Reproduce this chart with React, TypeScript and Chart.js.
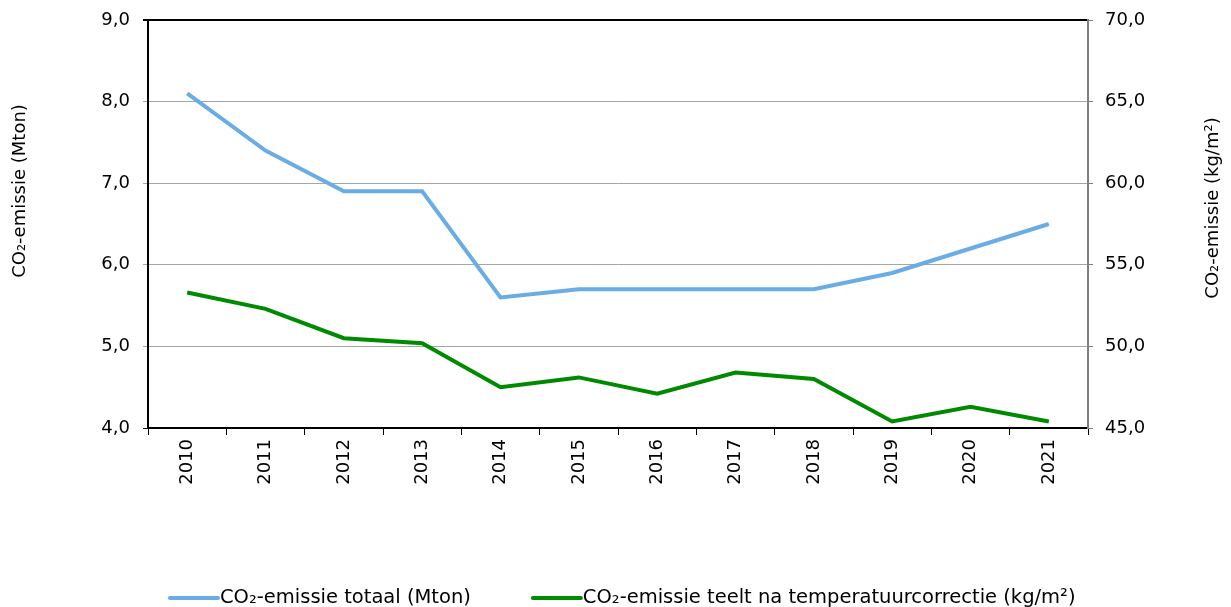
import React, { useEffect, useRef } from 'react';
import { Chart, registerables } from 'chart.js';

Chart.register(...registerables);

const years = ['2010', '2011', '2012', '2013', '2014', '2015', '2016', '2017', '2018', '2019', '2020', '2021'];
const totalMton = [8.1, 7.4, 6.9, 6.9, 5.6, 5.7, 5.7, 5.7, 5.7, 5.9, 6.2, 6.5];
const teeltKgM2 = [53.3, 52.3, 50.5, 50.2, 47.5, 48.1, 47.1, 48.4, 48.0, 45.4, 46.3, 45.4];
const seriesLabels = ['CO₂-emissie totaal (Mton)', 'CO₂-emissie teelt na temperatuurcorrectie (kg/m²)'];
const leftTitle = 'CO₂-emissie (Mton)';
const rightTitle = 'CO₂-emissie (kg/m²)';
const seriesColors = ['#6aade4', '#008a00'];

const FONT = "'DejaVu Sans', Verdana, sans-serif";
const fmt = (v: number) => v.toFixed(1).replace('.', ',');

const decorPlugin = {
  id: 'decor',
  afterDraw(chart: any) {
    const ctx = chart.ctx as CanvasRenderingContext2D;
    ctx.save();
    ctx.fillStyle = '#000';
    ctx.font = `18px ${FONT}`;
    ctx.textAlign = 'center';
    ctx.textBaseline = 'middle';
    // axis titles (both read bottom-to-top)
    ctx.save();
    ctx.translate(20, 191);
    ctx.rotate(-Math.PI / 2);
    ctx.fillText(leftTitle, 0, 0);
    ctx.restore();
    ctx.save();
    ctx.translate(1213, 208);
    ctx.rotate(-Math.PI / 2);
    ctx.fillText(rightTitle, 0, 0);
    ctx.restore();

    // legend
    ctx.font = `19.5px ${FONT}`;
    const lineLen = 48;
    const gap = 2;
    const itemGap = 62;
    const widths = seriesLabels.map((t) => ctx.measureText(t).width);
    let x = 170;
    const y = 598;
    ctx.textAlign = 'left';
    seriesLabels.forEach((t, i) => {
      ctx.strokeStyle = seriesColors[i];
      ctx.lineWidth = 4;
      ctx.lineCap = 'round';
      ctx.beginPath();
      ctx.moveTo(x, y);
      ctx.lineTo(x + lineLen, y);
      ctx.stroke();
      ctx.fillStyle = '#000';
      ctx.fillText(t, x + lineLen + gap, y);
      x += lineLen + gap + widths[i] + itemGap;
    });
    ctx.restore();
  },
};

export default function App() {
  const ref = useRef<HTMLCanvasElement>(null);
  useEffect(() => {
    if (!ref.current) return;
    const chart = new Chart(ref.current, {
      type: 'line',
      data: {
        labels: years,
        datasets: [
          {
            label: seriesLabels[0],
            data: totalMton,
            borderColor: seriesColors[0],
            backgroundColor: seriesColors[0],
            borderWidth: 4,
            pointRadius: 0,
            tension: 0,
            yAxisID: 'y',
          },
          {
            label: seriesLabels[1],
            data: teeltKgM2,
            borderColor: seriesColors[1],
            backgroundColor: seriesColors[1],
            borderWidth: 4,
            pointRadius: 0,
            tension: 0,
            yAxisID: 'y2',
          },
        ],
      },
      options: {
        responsive: false,
        animation: false,
        devicePixelRatio: 1,
        layout: { padding: { top: 20, left: 0, right: 0, bottom: 109 } },
        plugins: { legend: { display: false }, tooltip: { enabled: false } },
        scales: {
          x: {
            type: 'category',
            offset: true,
            grid: { offset: true, drawOnChartArea: false, drawTicks: true, tickLength: 7, color: '#000', lineWidth: 1 },
            border: { color: '#000', width: 2 },
            ticks: {
              color: '#000',
              font: { family: FONT, size: 18 },
              minRotation: 90,
              maxRotation: 90,
              padding: 4,
              autoSkip: false,
            },
            afterFit(scale: any) {
              scale.height = 70;
              scale.paddingLeft = 0;
              scale.paddingRight = 0;
            },
          },
          y: {
            position: 'left',
            min: 4,
            max: 9,
            grid: {
              color: (c: any) => (c.tick && (c.tick.value === 9 || c.tick.value === 4) ? '#000' : '#a6a6a6'),
              lineWidth: (c: any) => (c.tick && c.tick.value === 9 ? 2 : 1),
              tickLength: 5,
            },
            border: { color: '#000', width: 2 },
            ticks: {
              stepSize: 1,
              color: '#000',
              font: { family: FONT, size: 18 },
              padding: 13,
              callback: (v: any) => fmt(Number(v)),
            },
            afterFit(scale: any) {
              scale.width = 148;
              scale.paddingTop = 0;
              scale.paddingBottom = 0;
            },
          },
          y2: {
            position: 'right',
            min: 45,
            max: 70,
            grid: { drawOnChartArea: false, color: '#808080', tickLength: 5 },
            border: { color: '#808080', width: 2 },
            ticks: {
              stepSize: 5,
              color: '#000',
              font: { family: FONT, size: 18 },
              padding: 12,
              callback: (v: any) => fmt(Number(v)),
            },
            afterFit(scale: any) {
              scale.width = 143;
              scale.paddingTop = 0;
              scale.paddingBottom = 0;
            },
          },
        },
      },
      plugins: [decorPlugin],
    });
    return () => chart.destroy();
  }, []);
  return (
    <div style={{ position: 'absolute', left: 0, top: 0, width: 1231, height: 607, background: '#fff' }}>
      <canvas ref={ref} width={1231} height={607} />
    </div>
  );
}
